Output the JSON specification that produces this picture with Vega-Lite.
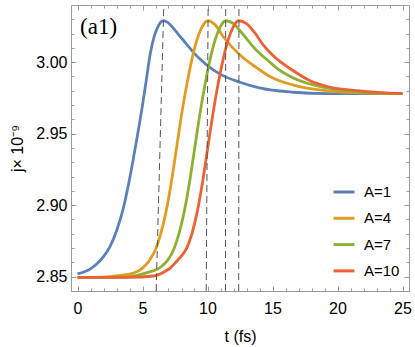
{
  "$schema": "https://vega.github.io/schema/vega-lite/v6.json",
  "width": 338,
  "height": 286,
  "autosize": {"type": "none"},
  "padding": {"left": 71, "top": 5, "right": 6, "bottom": 56},
  "background": "white",
  "config": {
    "view": {"stroke": "#9a9a9a", "strokeWidth": 1},
    "font": "Liberation Sans",
    "axis": {
      "grid": false,
      "domain": false,
      "labelFont": "Liberation Sans",
      "labelFontSize": 16,
      "labelColor": "#000000",
      "titleFont": "Liberation Sans",
      "titleFontSize": 16,
      "titleFontWeight": "normal",
      "titleColor": "#000000",
      "tickColor": "#9a9a9a",
      "tickWidth": 1
    }
  },
  "datasets": {
    "curves": [
      {"A": "A=1", "t": 0, "j": 2.852}, {"A": "A=1", "t": 1, "j": 2.8555}, {"A": "A=1", "t": 1.5, "j": 2.859}, {"A": "A=1", "t": 2, "j": 2.864}, {"A": "A=1", "t": 2.5, "j": 2.871}, {"A": "A=1", "t": 3, "j": 2.882}, {"A": "A=1", "t": 3.5, "j": 2.897}, {"A": "A=1", "t": 4, "j": 2.918}, {"A": "A=1", "t": 4.5, "j": 2.943}, {"A": "A=1", "t": 5, "j": 2.97}, {"A": "A=1", "t": 5.3, "j": 2.988}, {"A": "A=1", "t": 5.6, "j": 3.006}, {"A": "A=1", "t": 5.9, "j": 3.018}, {"A": "A=1", "t": 6.2, "j": 3.025}, {"A": "A=1", "t": 6.45, "j": 3.0285}, {"A": "A=1", "t": 6.64, "j": 3.029}, {"A": "A=1", "t": 6.9, "j": 3.028}, {"A": "A=1", "t": 7.3, "j": 3.0245}, {"A": "A=1", "t": 7.8, "j": 3.019}, {"A": "A=1", "t": 8.4, "j": 3.0125}, {"A": "A=1", "t": 9.0, "j": 3.006}, {"A": "A=1", "t": 9.95, "j": 2.998}, {"A": "A=1", "t": 11.0, "j": 2.9915}, {"A": "A=1", "t": 12.5, "j": 2.986}, {"A": "A=1", "t": 14, "j": 2.982}, {"A": "A=1", "t": 16.6, "j": 2.979}, {"A": "A=1", "t": 19.2, "j": 2.978}, {"A": "A=1", "t": 25, "j": 2.978},
      {"A": "A=4", "t": 0, "j": 2.8495}, {"A": "A=4", "t": 2, "j": 2.8497}, {"A": "A=4", "t": 3.3, "j": 2.851}, {"A": "A=4", "t": 4.3, "j": 2.8525}, {"A": "A=4", "t": 5, "j": 2.856}, {"A": "A=4", "t": 5.5, "j": 2.861}, {"A": "A=4", "t": 6.0, "j": 2.869}, {"A": "A=4", "t": 6.4, "j": 2.88}, {"A": "A=4", "t": 6.8, "j": 2.895}, {"A": "A=4", "t": 7.2, "j": 2.915}, {"A": "A=4", "t": 7.6, "j": 2.939}, {"A": "A=4", "t": 8.0, "j": 2.963}, {"A": "A=4", "t": 8.4, "j": 2.984}, {"A": "A=4", "t": 8.8, "j": 3.002}, {"A": "A=4", "t": 9.2, "j": 3.016}, {"A": "A=4", "t": 9.6, "j": 3.025}, {"A": "A=4", "t": 10.05, "j": 3.029}, {"A": "A=4", "t": 10.6, "j": 3.026}, {"A": "A=4", "t": 11.2, "j": 3.018}, {"A": "A=4", "t": 12.5, "j": 3.005}, {"A": "A=4", "t": 13.8, "j": 2.996}, {"A": "A=4", "t": 14.8, "j": 2.99}, {"A": "A=4", "t": 16.6, "j": 2.984}, {"A": "A=4", "t": 19.2, "j": 2.98}, {"A": "A=4", "t": 21.7, "j": 2.9786}, {"A": "A=4", "t": 25, "j": 2.978},
      {"A": "A=7", "t": 0, "j": 2.8495}, {"A": "A=7", "t": 3, "j": 2.8495}, {"A": "A=7", "t": 4.6, "j": 2.851}, {"A": "A=7", "t": 5.6, "j": 2.8535}, {"A": "A=7", "t": 6.1, "j": 2.855}, {"A": "A=7", "t": 6.5, "j": 2.8575}, {"A": "A=7", "t": 6.9, "j": 2.861}, {"A": "A=7", "t": 7.4, "j": 2.869}, {"A": "A=7", "t": 7.8, "j": 2.88}, {"A": "A=7", "t": 8.2, "j": 2.895}, {"A": "A=7", "t": 8.6, "j": 2.915}, {"A": "A=7", "t": 9.0, "j": 2.939}, {"A": "A=7", "t": 9.4, "j": 2.963}, {"A": "A=7", "t": 9.8, "j": 2.984}, {"A": "A=7", "t": 10.2, "j": 3.002}, {"A": "A=7", "t": 10.6, "j": 3.016}, {"A": "A=7", "t": 11.0, "j": 3.025}, {"A": "A=7", "t": 11.4, "j": 3.029}, {"A": "A=7", "t": 12.0, "j": 3.027}, {"A": "A=7", "t": 12.5, "j": 3.022}, {"A": "A=7", "t": 13.8, "j": 3.008}, {"A": "A=7", "t": 14.8, "j": 3.0}, {"A": "A=7", "t": 15.3, "j": 2.996}, {"A": "A=7", "t": 16.6, "j": 2.989}, {"A": "A=7", "t": 19.2, "j": 2.982}, {"A": "A=7", "t": 21.7, "j": 2.979}, {"A": "A=7", "t": 25, "j": 2.978},
      {"A": "A=10", "t": 0, "j": 2.8495}, {"A": "A=10", "t": 4, "j": 2.8495}, {"A": "A=10", "t": 5.85, "j": 2.8505}, {"A": "A=10", "t": 6.6, "j": 2.853}, {"A": "A=10", "t": 7.13, "j": 2.856}, {"A": "A=10", "t": 7.6, "j": 2.8605}, {"A": "A=10", "t": 8.0, "j": 2.8645}, {"A": "A=10", "t": 8.4, "j": 2.87}, {"A": "A=10", "t": 8.8, "j": 2.88}, {"A": "A=10", "t": 9.2, "j": 2.895}, {"A": "A=10", "t": 9.6, "j": 2.915}, {"A": "A=10", "t": 10.0, "j": 2.939}, {"A": "A=10", "t": 10.4, "j": 2.963}, {"A": "A=10", "t": 10.8, "j": 2.984}, {"A": "A=10", "t": 11.2, "j": 3.002}, {"A": "A=10", "t": 11.6, "j": 3.016}, {"A": "A=10", "t": 12.0, "j": 3.025}, {"A": "A=10", "t": 12.4, "j": 3.029}, {"A": "A=10", "t": 13.0, "j": 3.027}, {"A": "A=10", "t": 13.6, "j": 3.021}, {"A": "A=10", "t": 14.3, "j": 3.012}, {"A": "A=10", "t": 15.0, "j": 3.005}, {"A": "A=10", "t": 16.6, "j": 2.994}, {"A": "A=10", "t": 17.9, "j": 2.987}, {"A": "A=10", "t": 19.2, "j": 2.983}, {"A": "A=10", "t": 21.7, "j": 2.98}, {"A": "A=10", "t": 25, "j": 2.978}
    ],
    "dash": [
      {"id": "d1", "t": 6.64, "j": 3.04}, {"id": "d1", "t": 6.05, "j": 2.84},
      {"id": "d2", "t": 10.05, "j": 3.04}, {"id": "d2", "t": 9.9, "j": 2.84},
      {"id": "d3", "t": 11.4, "j": 3.04}, {"id": "d3", "t": 11.38, "j": 2.84},
      {"id": "d4", "t": 12.42, "j": 3.04}, {"id": "d4", "t": 12.4, "j": 2.84}
    ],
    "label": [{"text": "(a1)", "t": 0.2, "j": 3.0245}]
  },
  "layer": [
    {
      "data": {"name": "curves"},
      "mark": {"type": "line", "strokeWidth": 2.8, "interpolate": "monotone", "clip": true},
      "encoding": {
        "x": {"field": "t", "type": "quantitative", "scale": {"domain": [-0.5, 25.5], "nice": false, "zero": false},
          "axis": {"orient": "bottom", "values": [0, 5, 10, 15, 20, 25], "ticks": false, "labelPadding": 9, "title": "t (fs)", "titlePadding": 12}},
        "y": {"field": "j", "type": "quantitative", "scale": {"domain": [2.84, 3.04], "nice": false, "zero": false},
          "axis": {"orient": "left", "values": [2.85, 2.9, 2.95, 3.0], "format": ".2f", "ticks": false, "labelPadding": 4, "title": "j× 10⁻⁹", "titlePadding": 10}},
        "color": {"field": "A", "type": "nominal",
          "scale": {"domain": ["A=1", "A=4", "A=7", "A=10"], "range": ["#5E81B5", "#E19C24", "#8FB032", "#EB6235"]},
          "legend": {"orient": "none", "legendX": 261, "legendY": 175, "title": null, "symbolType": "stroke", "symbolSize": 441, "symbolStrokeWidth": 3, "labelFontSize": 15, "labelFont": "Liberation Sans", "labelColor": "#000000", "labelOffset": 8, "rowPadding": 6.3}
        }
      }
    },
    {
      "data": {"name": "dash"},
      "mark": {"type": "line", "stroke": "#555555", "strokeWidth": 1, "strokeDash": [7, 4]},
      "encoding": {
        "x": {"field": "t", "type": "quantitative", "scale": {"domain": [-0.5, 25.5], "nice": false, "zero": false},
          "axis": {"orient": "bottom", "values": [0, 5, 10, 15, 20, 25], "labels": false, "tickSize": -5, "title": null}},
        "y": {"field": "j", "type": "quantitative", "scale": {"domain": [2.84, 3.04], "nice": false, "zero": false},
          "axis": {"orient": "left", "values": [2.85, 2.9, 2.95, 3.0], "labels": false, "tickSize": -5, "title": null}},
        "detail": {"field": "id"}
      }
    },
    {
      "data": {"name": "dash"},
      "mark": {"type": "line", "opacity": 0},
      "encoding": {
        "x": {"field": "t", "type": "quantitative", "scale": {"domain": [-0.5, 25.5], "nice": false, "zero": false},
          "axis": {"orient": "bottom", "values": [0,1,2,3,4,5,6,7,8,9,10,11,12,13,14,15,16,17,18,19,20,21,22,23,24,25], "labels": false, "tickSize": -3, "title": null}},
        "y": {"field": "j", "type": "quantitative", "scale": {"domain": [2.84, 3.04], "nice": false, "zero": false},
          "axis": {"orient": "left", "values": [2.84,2.85,2.86,2.87,2.88,2.89,2.9,2.91,2.92,2.93,2.94,2.95,2.96,2.97,2.98,2.99,3.0,3.01,3.02,3.03], "labels": false, "tickSize": -3, "title": null}},
        "detail": {"field": "id"}
      }
    },
    {
      "data": {"name": "dash"},
      "mark": {"type": "line", "opacity": 0},
      "encoding": {
        "x": {"field": "t", "type": "quantitative", "scale": {"domain": [-0.5, 25.5], "nice": false, "zero": false},
          "axis": {"orient": "top", "values": [0, 5, 10, 15, 20, 25], "labels": false, "tickSize": -5, "title": null}},
        "y": {"field": "j", "type": "quantitative", "scale": {"domain": [2.84, 3.04], "nice": false, "zero": false},
          "axis": {"orient": "right", "values": [2.85, 2.9, 2.95, 3.0], "labels": false, "tickSize": -5, "title": null}},
        "detail": {"field": "id"}
      }
    },
    {
      "data": {"name": "dash"},
      "mark": {"type": "line", "opacity": 0},
      "encoding": {
        "x": {"field": "t", "type": "quantitative", "scale": {"domain": [-0.5, 25.5], "nice": false, "zero": false},
          "axis": {"orient": "top", "values": [0,1,2,3,4,5,6,7,8,9,10,11,12,13,14,15,16,17,18,19,20,21,22,23,24,25], "labels": false, "tickSize": -3, "title": null}},
        "y": {"field": "j", "type": "quantitative", "scale": {"domain": [2.84, 3.04], "nice": false, "zero": false},
          "axis": {"orient": "right", "values": [2.84,2.85,2.86,2.87,2.88,2.89,2.9,2.91,2.92,2.93,2.94,2.95,2.96,2.97,2.98,2.99,3.0,3.01,3.02,3.03], "labels": false, "tickSize": -3, "title": null}},
        "detail": {"field": "id"}
      }
    },
    {
      "data": {"name": "label"},
      "mark": {"type": "text", "font": "Liberation Serif", "fontSize": 23, "align": "left", "baseline": "middle", "color": "#000000"},
      "encoding": {
        "x": {"field": "t", "type": "quantitative", "scale": {"domain": [-0.5, 25.5], "nice": false, "zero": false}, "axis": null},
        "y": {"field": "j", "type": "quantitative", "scale": {"domain": [2.84, 3.04], "nice": false, "zero": false}, "axis": null},
        "text": {"field": "text"}
      }
    }
  ],
  "resolve": {"axis": {"x": "independent", "y": "independent"}}
}
